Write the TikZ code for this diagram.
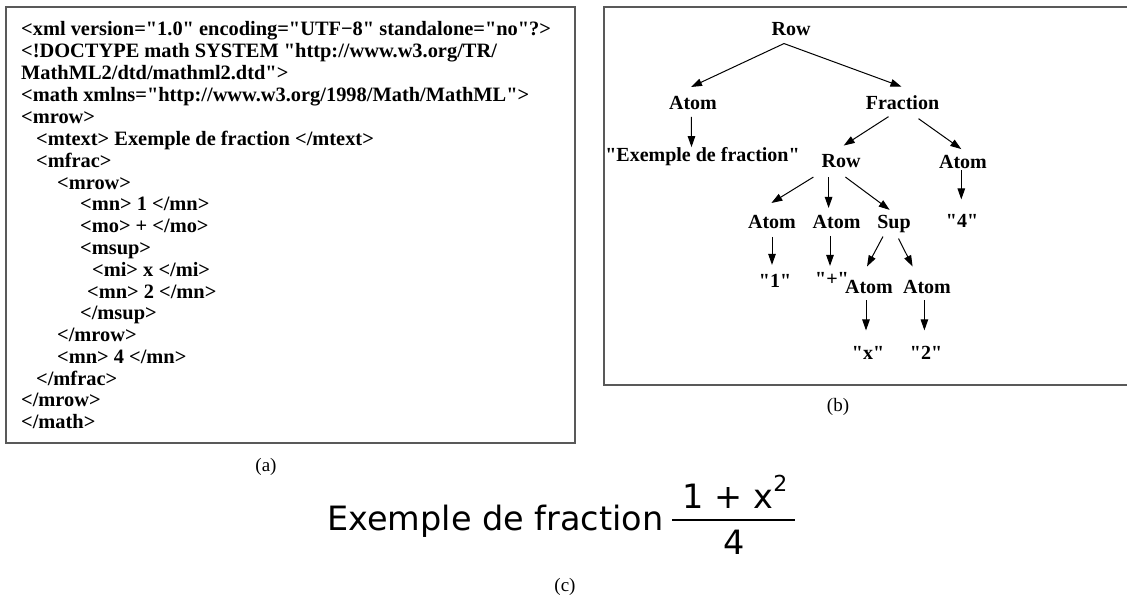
\documentclass[tikz,border=0pt]{standalone}
\usepackage{fontspec}
\setmainfont{Liberation Serif}[Ligatures=TeXOff]
\newfontfamily\csans{DejaVu Sans}
\usetikzlibrary{arrows.meta}
\tikzset{
  frame/.style={draw=black!65, line width=1.3pt},
  code/.style={font=\bfseries\fontsize{20.4}{22}\selectfont, anchor=base west, inner sep=0pt},
  tree/.style={font=\bfseries\fontsize{20}{22}\selectfont, inner sep=0pt, anchor=base},
  captxt/.style={font=\fontsize{19}{22}\selectfont, inner sep=0pt},
  arr/.style={line width=1pt, -{Triangle[length=11pt,width=7.5pt]}},
  big/.style={font=\csans\fontsize{33.5}{36}\selectfont, inner sep=0pt, anchor=base},
}
\newcommand{\link}[6]{\draw[arr] ([shift={(#2,#3)}]#1.center) -- ([shift={(#5,#6)}]#4.center);}
\begin{document}
\begin{tikzpicture}[x=1pt,y=-1pt]
\useasboundingbox (0,0) rectangle (1127,602);
% (a) box
\draw[frame] (6,7) rectangle (575,443);
\node[code] (l1) at (21,36) {<xml version="1.0" encoding="UTF−8" standalone="no"?>};
\node[code] (l2) at (21,58) {<!DOCTYPE math SYSTEM "http://www.w3.org/TR/};
\node[code] (l3) at (21,80) {MathML2/dtd/mathml2.dtd">};
\node[code] (l4) at (21,101) {<math xmlns="http://www.w3.org/1998/Math/MathML">};
\node[code] (l5) at (21,123) {<mrow>};
\node[code] (l6) at (36,145) {<mtext> Exemple de fraction </mtext>};
\node[code] (l7) at (36,167) {<mfrac>};
\node[code] (l8) at (57,189) {<mrow>};
\node[code] (l9) at (80,210) {<mn> 1 </mn>};
\node[code] (l10) at (80,232) {<mo> + </mo>};
\node[code] (l11) at (80,254) {<msup>};
\node[code] (l12) at (92,276) {<mi> x </mi>};
\node[code] (l13) at (87,298) {<mn> 2 </mn>};
\node[code] (l14) at (80,319) {</msup>};
\node[code] (l15) at (57,341) {</mrow>};
\node[code] (l16) at (57,363) {<mn> 4 </mn>};
\node[code] (l17) at (36,385) {</mfrac>};
\node[code] (l18) at (21,406) {</mrow>};
\node[code] (l19) at (21,428) {</math>};
\node[captxt] (capa) at (266,467) {(a)};
% (b) box
\draw[frame] (1130,7) -- (604,7) -- (604,385) -- (1130,385);
\node[tree] (row) at (791,36) {Row};
\node[tree] (atomL) at (693,110) {Atom};
\node[tree] (ex) at (702.5,161) {"Exemple de fraction"};
\node[tree] (frac) at (902.5,109) {Fraction};
\node[tree] (row2) at (841,167) {Row};
\node[tree] (atom4) at (963,168) {Atom};
\node[tree] (q4) at (962,227) {"4"};
\node[tree] (atom1) at (772,228) {Atom};
\node[tree] (atomp) at (836.6,228) {Atom};
\node[tree] (sup) at (894,228) {Sup};
\node[tree] (q1) at (775,287) {"1"};
\node[tree] (qp) at (832,285) {"+"};
\node[tree] (atomx) at (869,293) {Atom};
\node[tree] (atom2) at (927,293) {Atom};
\node[tree] (qx) at (868,359) {"x"};
\node[tree] (q2) at (926,359) {"2"};
\node[captxt] (capb) at (838,407) {(b)};
\link{row}{-7}{14}{atomL}{-2}{-16.5}
\link{row}{-7}{14}{frac}{-1}{-15.5}
\link{atomL}{-1.6}{13.5}{ex}{-11}{-9}
\link{frac}{-14}{14.5}{row2}{2.7}{-15}
\link{frac}{16}{16.5}{atom4}{-1.7}{-12.4}
\link{atom4}{-1.7}{9}{q4}{-0.7}{-21}
\link{row2}{-27.6}{16.5}{atom1}{-0.6}{-18.5}
\link{row2}{-12.4}{16.5}{atomp}{-8}{-13.5}
\link{row2}{4.4}{16.5}{sup}{-4.3}{-13.6}
\link{atom1}{0}{15.5}{q1}{-3}{-15.5}
\link{atomp}{-6.6}{14.5}{qp}{-2}{-12.5}
\link{sup}{-11}{13}{atomx}{-2}{-20}
\link{sup}{4.5}{15}{atom2}{-14.4}{-20}
\link{atomx}{-3}{14}{qx}{-2}{-22}
\link{atom2}{-2.6}{14}{q2}{-1.6}{-22}
% (c)
\node[big, anchor=base west] (extext) at (327,530) {Exemple de fraction};
\node[big] (num) at (735,508) {1 + x\raisebox{0.5em}{\fontsize{22}{24}\selectfont 2}};
\node[big] (den) at (734,554) {4};
\draw[line width=2.6pt] (672,520) -- (795,520);
\node[captxt] (capc) at (565,587) {(c)};
\end{tikzpicture}
\end{document}
